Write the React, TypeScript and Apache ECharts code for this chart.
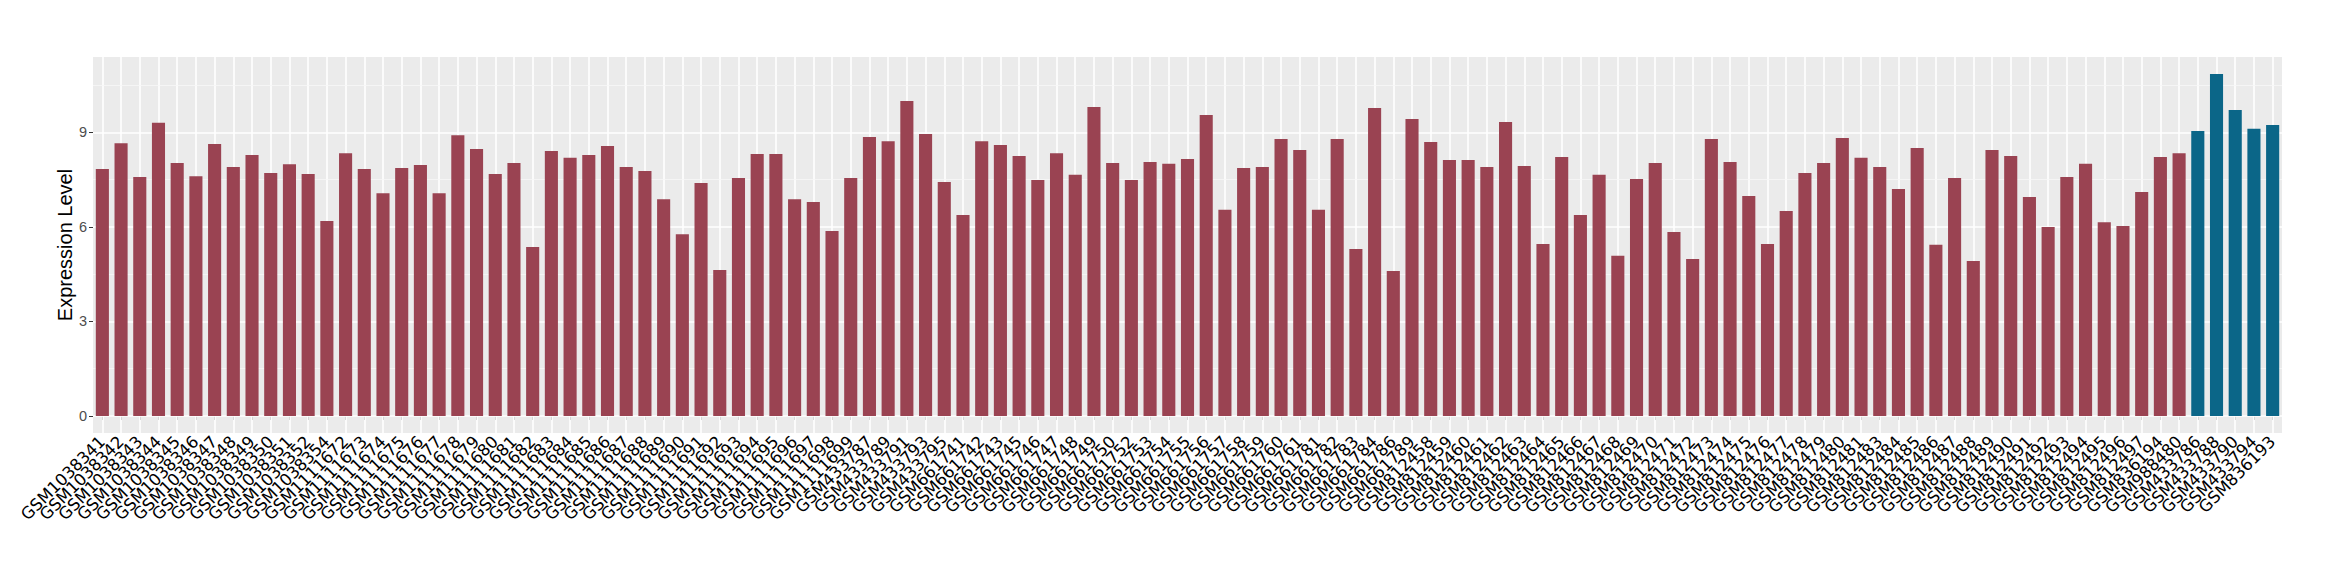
import React, { useEffect, useRef } from "react";
import * as echarts from "echarts";

const categories = [
  "GSM1038341", "GSM1038342", "GSM1038343", "GSM1038344", "GSM1038345", "GSM1038346", "GSM1038347",
  "GSM1038348", "GSM1038349", "GSM1038350", "GSM1038351", "GSM1038352", "GSM1038354",
  "GSM1111672", "GSM1111673", "GSM1111674", "GSM1111675", "GSM1111676", "GSM1111677", "GSM1111678",
  "GSM1111679", "GSM1111680", "GSM1111681", "GSM1111682", "GSM1111683", "GSM1111684", "GSM1111685",
  "GSM1111686", "GSM1111687", "GSM1111688", "GSM1111689", "GSM1111690", "GSM1111691", "GSM1111692",
  "GSM1111693", "GSM1111694", "GSM1111695", "GSM1111696", "GSM1111697", "GSM1111698", "GSM1111699",
  "GSM433787", "GSM433789", "GSM433791", "GSM433793", "GSM433795",
  "GSM661741", "GSM661742", "GSM661743", "GSM661745", "GSM661746", "GSM661747", "GSM661748",
  "GSM661749", "GSM661750", "GSM661752", "GSM661753", "GSM661754", "GSM661755", "GSM661756",
  "GSM661757", "GSM661758", "GSM661759", "GSM661760", "GSM661761", "GSM661781", "GSM661782",
  "GSM661783", "GSM661784", "GSM661786", "GSM661789",
  "GSM812458", "GSM812459", "GSM812460", "GSM812461", "GSM812462", "GSM812463", "GSM812464",
  "GSM812465", "GSM812466", "GSM812467", "GSM812468", "GSM812469", "GSM812470", "GSM812471",
  "GSM812472", "GSM812473", "GSM812474", "GSM812475", "GSM812476", "GSM812477", "GSM812478",
  "GSM812479", "GSM812480", "GSM812481", "GSM812483", "GSM812484", "GSM812485", "GSM812486",
  "GSM812487", "GSM812488", "GSM812489", "GSM812490", "GSM812491", "GSM812492", "GSM812493",
  "GSM812494", "GSM812495", "GSM812496", "GSM812497",
  "GSM836194", "GSM988480",
  "GSM433786", "GSM433788", "GSM433790", "GSM433794", "GSM836193",
];

const values = [
  7.84, 8.65, 7.58, 9.3, 8.03, 7.61, 8.63, 7.9, 8.28, 7.71, 7.99, 7.68, 6.19,
  8.34, 7.84, 7.07, 7.87, 7.96, 7.07, 8.91, 8.47, 7.68, 8.03, 5.36, 8.41, 8.19, 8.28,
  8.57, 7.9, 7.77, 6.88, 5.77, 7.39, 4.63, 7.55, 8.31, 8.31, 6.88, 6.79, 5.87, 7.55,
  8.85, 8.72, 9.99, 8.95, 7.42,
  6.38, 8.72, 8.6, 8.25, 7.49, 8.34, 7.65, 9.8, 8.03, 7.49, 8.06, 8.0, 8.15, 9.55,
  6.54, 7.87, 7.9, 8.79, 8.44, 6.54, 8.79, 5.3, 9.77, 4.6, 9.42,
  8.69, 8.12, 8.12, 7.9, 9.33, 7.93, 5.46, 8.22, 6.38, 7.65, 5.08, 7.52, 8.03, 5.84,
  4.98, 8.79, 8.06, 6.98, 5.46, 6.5, 7.71, 8.03, 8.82, 8.19, 7.9, 7.2, 8.5, 5.43,
  7.55, 4.92, 8.44, 8.25, 6.95, 6.0, 7.58, 8.0, 6.15, 6.03, 7.11,
  8.22, 8.34,
  9.04, 10.85, 9.71, 9.11, 9.23,
];

// samples drawn in the highlight colour
const highlighted = ["GSM433786", "GSM433788", "GSM433790", "GSM433794", "GSM836193"];

const yTicks = [0, 3, 6, 9];
const yMinorLines = [1.5, 4.5, 7.5, 10.5];
const Y_MIN = -0.54;
const Y_MAX = 11.39;

const COLOR_MAIN = "#9A4352";
const COLOR_HIGHLIGHT = "#0B6688";

export default function App() {
  const ref = useRef<HTMLDivElement>(null);

  useEffect(() => {
    if (!ref.current) return;
    const chart = echarts.init(ref.current, undefined, { renderer: "svg" });

    const barData = categories.map((c, i) => ({
      value: values[i],
      itemStyle: { color: highlighted.includes(c) ? COLOR_HIGHLIGHT : COLOR_MAIN },
    }));

    const gridLines = [
      ...categories.map((c) => ({ xAxis: c, lineStyle: { color: "#ffffff", width: 1.6 } })),
      ...yMinorLines.map((v) => ({ yAxis: v, lineStyle: { color: "#f7f7f7", width: 0.8 } })),
      ...yTicks.map((v) => ({ yAxis: v, lineStyle: { color: "#ffffff", width: 1.6 } })),
    ];

    chart.setOption({
      animation: false,
      backgroundColor: "#ffffff",
      grid: {
        left: 93,
        right: 58,
        top: 57,
        bottom: 147,
        show: true,
        backgroundColor: "#EBEBEB",
        borderWidth: 0,
        containLabel: false,
        outerBoundsMode: "none",
      },
      xAxis: {
        type: "category",
        data: categories,
        axisLine: { show: false },
        axisTick: { show: true, alignWithLabel: true, length: 4, lineStyle: { color: "#333333", width: 1 } },
        splitLine: { show: false },
        axisLabel: {
          interval: 0,
          rotate: 45,
          margin: 6,
          fontSize: 16.5,
          fontFamily: "DejaVu Sans, sans-serif",
          color: "#000000",
        },
      },
      yAxis: {
        type: "value",
        min: Y_MIN,
        max: Y_MAX,
        name: "Expression Level",
        nameLocation: "middle",
        nameRotate: 90,
        nameGap: 18,
        nameMoveOverlap: false,
        nameTextStyle: { fontSize: 20, fontFamily: "Liberation Sans, Arial, sans-serif", color: "#000000" },
        axisLine: { show: false },
        axisTick: { show: true, length: 4, customValues: yTicks, lineStyle: { color: "#333333" } },
        axisLabel: {
          customValues: yTicks,
          margin: 6,
          fontSize: 14.5,
          fontFamily: "Liberation Sans, Arial, sans-serif",
          color: "#4D4D4D",
        },
        splitLine: { show: false },
      },
      series: [
        {
          type: "bar",
          data: barData,
          barWidth: "70%",
          z: 2,
          markLine: {
            silent: true,
            z: 1,
            symbol: "none",
            label: { show: false },
            lineStyle: { type: "solid" },
            data: gridLines,
          },
        },
      ],
    });

    return () => chart.dispose();
  }, []);

  return (
    <div
      ref={ref}
      style={{ position: "absolute", left: 0, top: 0, width: 2340, height: 580 }}
    />
  );
}
